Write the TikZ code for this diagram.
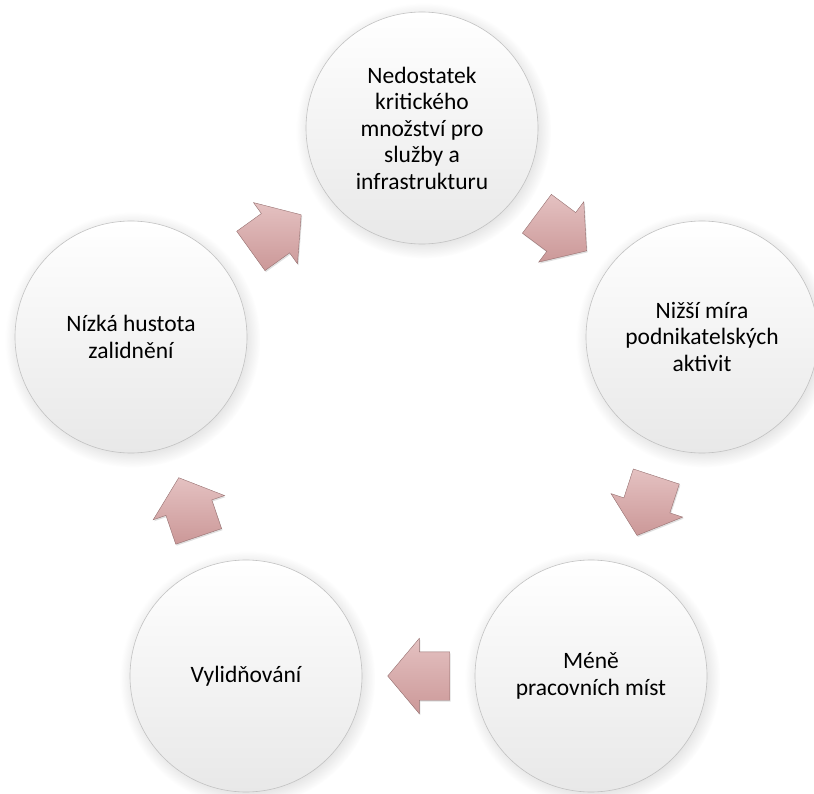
\documentclass[tikz,border=0pt]{standalone}
\usepackage{fontspec}
\setmainfont{Carlito}
\usetikzlibrary{shapes.arrows,shadows}
\definecolor{flowrose}{RGB}{214,160,160}

\begin{document}
\begin{tikzpicture}[x=1pt,y=-1pt,
  main node/.style={circle, minimum size=232pt, inner sep=0pt, align=center,
    top color=white, bottom color=black!9, draw=black!24, line width=0.6pt,
    font=\fontsize{23.5}{26.5}\selectfont,
    circular drop shadow={shadow xshift=1.5pt, shadow yshift=-2.5pt, opacity=0.25}},
  flow/.style={single arrow, minimum height=62pt, inner xsep=0pt, inner ysep=24pt,
    single arrow head extend=13.5pt, single arrow tip angle=100,
    top color=flowrose!65!white, bottom color=flowrose!95!black,
    draw=flowrose!70!black, line width=0.4pt, sloped, allow upside down, pos=0.47,
    drop shadow={shadow xshift=1pt, shadow yshift=-1.5pt, opacity=0.25}}]
  \useasboundingbox (0,0) rectangle (814,794);

  \node[main node] (n0) at (422,128) {Nedostatek\\kritického\\množství pro\\služby a\\infrastrukturu};
  \node[main node] (n1) at (702,337) {Nižší míra\\podnikatelských\\aktivit};
  \node[main node] (n2) at (591,676) {Méně\\pracovních míst};
  \node[main node] (n3) at (246,676) {Vylidňování};
  \node[main node] (n4) at (131,337) {Nízká hustota\\zalidnění};

  \path (n4.center) -- node[flow] {} (n0.center);
  \path (n0.center) -- node[flow] {} (n1.center);
  \path (n1.center) -- node[flow] {} (n2.center);
  \path (n2.center) -- node[flow] {} (n3.center);
  \path (n3.center) -- node[flow] {} (n4.center);
\end{tikzpicture}
\end{document}
